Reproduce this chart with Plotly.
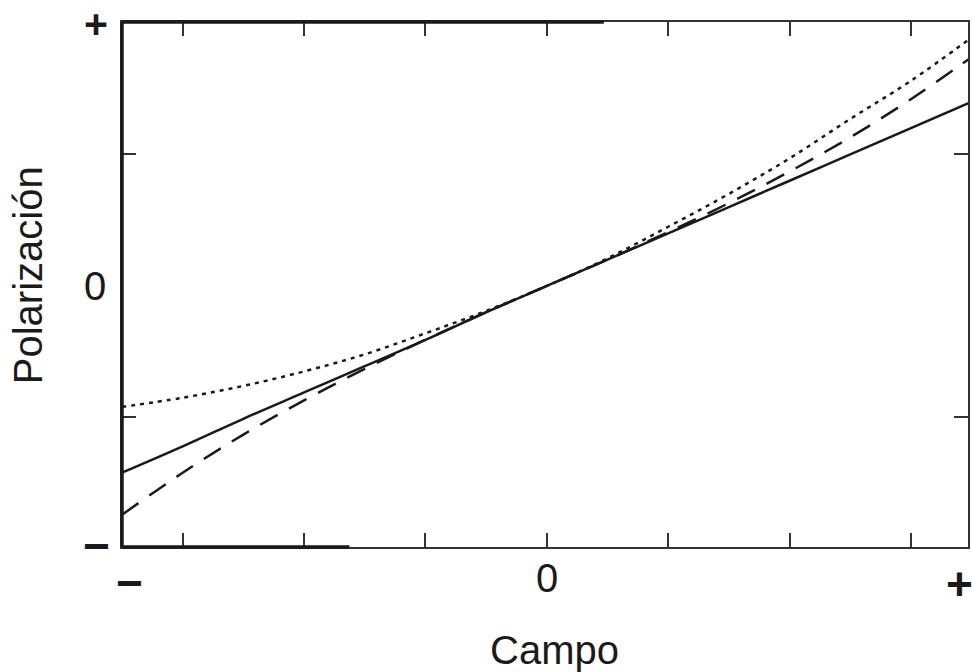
import plotly.graph_objects as go

# Data (arbitrary units: field vs polarization)
campo = [-3.5, -3.0, -2.5, -2.0, -1.5, -1.0, -0.5, 0.0, 0.5, 1.0, 1.5, 2.0, 2.5, 3.0, 3.5]
pol_lineal = [-1.42, -1.22, -1.01, -0.81, -0.61, -0.41, -0.20, 0.0, 0.20, 0.40, 0.60, 0.80, 1.00, 1.20, 1.40]
pol_cubica = [-1.74, -1.42, -1.13, -0.87, -0.63, -0.41, -0.20, 0.0, 0.20, 0.41, 0.63, 0.87, 1.13, 1.42, 1.74]
pol_cuadratica = [-0.92, -0.85, -0.76, -0.65, -0.52, -0.36, -0.19, 0.0, 0.21, 0.45, 0.70, 0.97, 1.27, 1.56, 1.89]

x_ticks = [-3, -2, -1, 0, 1, 2, 3]
y_ticks = [-1, 1]

INK = "#1a1a1a"
FONT = "Liberation Sans, Arial, sans-serif"

fig = go.Figure()
fig.add_trace(go.Scatter(x=campo, y=pol_lineal, mode="lines", line=dict(color=INK, width=2.5, shape="spline")))
fig.add_trace(go.Scatter(x=campo, y=pol_cubica, mode="lines", line=dict(color=INK, width=2.5, dash="20px,13px", shape="spline")))
fig.add_trace(go.Scatter(x=campo, y=pol_cuadratica, mode="lines", line=dict(color=INK, width=2.5, dash="4px,5px", shape="spline")))

fig.update_layout(
    width=972, height=672,
    margin=dict(l=122, r=2, t=22, b=125),
    paper_bgcolor="white", plot_bgcolor="white",
    showlegend=False,
    font=dict(family=FONT, color=INK),
)
fig.update_xaxes(range=[-3.5, 3.47], tickvals=x_ticks, showticklabels=False, ticks="inside", ticklen=14,
                 tickwidth=1.5, tickcolor="#333", showline=True, linecolor="#333", linewidth=2,
                 mirror="ticks", showgrid=False, zeroline=False)
fig.update_yaxes(range=[-1.985, 2.007], tickvals=y_ticks, showticklabels=False, ticks="inside", ticklen=14,
                 tickwidth=1.5, tickcolor="#333", showline=True, linecolor="#333", linewidth=2,
                 mirror="ticks", showgrid=False, zeroline=False)

# heavier frame segments
def seg(x0, y0, x1, y1, w):
    fig.add_shape(type="line", xref="paper", yref="paper", x0=x0, y0=y0, x1=x1, y1=y1,
                  line=dict(color=INK, width=w), layer="above")
seg(0, 0, 0, 1, 3.5)
seg(0, 1, (605 - 122) / 848, 1, 3.5)
seg(0, 0, (350 - 122) / 848, 0, 3.5)

def lab(text, x, y, size, angle=0, bold=False):
    if bold:
        text = "<b>" + text + "</b>"
    fig.add_annotation(text=text, xref="paper", yref="paper", x=x, y=y, showarrow=False,
                       xanchor="center", yanchor="middle", textangle=angle,
                       font=dict(family=FONT, size=size, color=INK))

lab("+", (96 - 122) / 848, (547 - 23.5) / 525, 41, bold=True)
lab("0", (95 - 122) / 848, (547 - 286) / 525, 40)
lab("−", (96 - 122) / 848, (547 - 546) / 525, 46, bold=True)
lab("−", (130 - 122) / 848, (547 - 583) / 525, 46, bold=True)
lab("0", (548 - 122) / 848, (547 - 578) / 525, 40)
lab("+", (961 - 122) / 848, (547 - 584) / 525, 46, bold=True)
lab("Campo", (556 - 122) / 848, (547 - 650) / 525, 40)
lab("Polarización", (28 - 122) / 848, (547 - 275) / 525, 40, angle=-90)

fig.write_html("out.html", config={"displayModeBar": False},
               post_script="document.body.style.margin='0';document.body.style.overflow='hidden';")
